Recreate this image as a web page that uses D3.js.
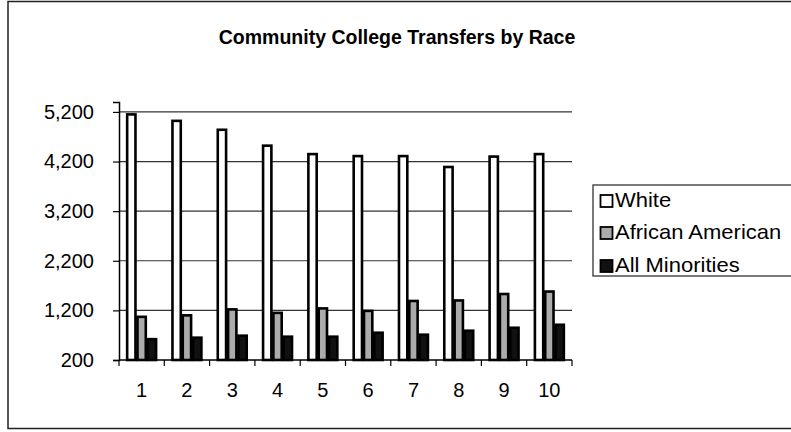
<!DOCTYPE html>
<html><head><meta charset="utf-8">
<script src="https://cdn.jsdelivr.net/npm/d3@7"></script>
<style>
html,body{margin:0;padding:0;background:#fff;}
text{font-family:"Liberation Sans",Arial,sans-serif;fill:#000;}
</style></head>
<body><svg id="chart" width="791" height="432"></svg>
<script>
const categories = ["1","2","3","4","5","6","7","8","9","10"];
const seriesNames = ["White","African American","All Minorities"];
const white = [5150, 5020, 4840, 4520, 4350, 4310, 4310, 4090, 4300, 4350];
const africanAmerican = [1070, 1100, 1220, 1150, 1240, 1190, 1390, 1400, 1530, 1580];
const allMinorities = [620, 650, 690, 670, 670, 750, 710, 790, 850, 910];
const yTicks = [200, 1200, 2200, 3200, 4200, 5200];
const title = "Community College Transfers by Race";

const series = [white, africanAmerican, allMinorities];
const fills = ["#ffffff", "#ababab", "#111111"];

const svg = d3.select("#chart");
// outer frame
svg.append("rect").attr("x",8).attr("y",1.5).attr("width",820).attr("height",427)
  .attr("fill","none").attr("stroke","#222").attr("stroke-width",1.5);

const x0 = d3.scaleBand().domain(categories).range([119,572]).paddingInner(0.317).paddingOuter(0.158);
const x1 = d3.scaleBand().domain(seriesNames).range([0, x0.bandwidth()]);
const y = d3.scaleLinear().domain([200, 5400]).range([360, 102]);

// gridlines
svg.append("g").selectAll("line").data(yTicks.slice(1)).join("line")
  .attr("x1",119).attr("x2",572).attr("y1",d=>y(d)).attr("y2",d=>y(d))
  .attr("stroke","#333").attr("stroke-width",1.2);

// bars
const groups = svg.append("g").selectAll("g").data(categories).join("g")
  .attr("transform",c=>`translate(${x0(c)},0)`);
groups.selectAll("rect").data((c,i)=>series.map((s,k)=>({k, v:s[i], name:seriesNames[k]}))).join("rect")
  .attr("x",d=>x1(d.name)+1).attr("width",x1.bandwidth()-2)
  .attr("y",d=>y(d.v)).attr("height",d=>y(200)-y(d.v))
  .attr("fill",d=>fills[d.k]).attr("stroke","#000").attr("stroke-width",2.6);

// y axis
const yAxis = d3.axisLeft(y).tickValues(yTicks).tickSize(6).tickPadding(19).tickFormat(d3.format(","));
const gy = svg.append("g").attr("transform","translate(119,0)").call(yAxis);
gy.select(".domain").attr("stroke","#000").attr("stroke-width",1.5);
gy.selectAll(".tick line").attr("stroke","#000").attr("stroke-width",1.2);
gy.selectAll("text").attr("font-size",20).attr("font-family","Liberation Sans, Arial, sans-serif");

// x axis
svg.append("line").attr("x1",119).attr("x2",572).attr("y1",360).attr("y2",360).attr("stroke","#000").attr("stroke-width",1.5);
const xb = d3.scaleLinear().domain([0, categories.length]).range([119,572]);
svg.append("g").selectAll("line").data(d3.range(categories.length+1)).join("line")
  .attr("x1",d=>xb(d)).attr("x2",d=>xb(d)).attr("y1",360).attr("y2",366)
  .attr("stroke","#000").attr("stroke-width",1.2);
svg.append("g").selectAll("text").data(categories).join("text")
  .attr("x",c=>x0(c)+x0.bandwidth()/2).attr("y",397).attr("text-anchor","middle")
  .attr("font-size",20).text(c=>c);

// title
svg.append("text").attr("x",397).attr("y",44).attr("text-anchor","middle")
  .attr("font-size",19.5).attr("font-weight","bold").text(title);

// legend
const lg = svg.append("g");
lg.append("rect").attr("x",593).attr("y",185).attr("width",220).attr("height",91)
  .attr("fill","#fff").attr("stroke","#222").attr("stroke-width",1.2);
const rows = lg.selectAll("g").data(seriesNames).join("g")
  .attr("transform",(d,i)=>`translate(0,${[207,239,272][i]})`);
rows.append("rect").attr("x",600.5).attr("y",-12).attr("width",12).attr("height",12)
  .attr("fill",(d,i)=>fills[i]).attr("stroke","#000").attr("stroke-width",1.8);
rows.append("text").attr("transform","translate(615,0) scale(1.1,1)").attr("font-size",20).text(d=>d);
</script></body></html>
